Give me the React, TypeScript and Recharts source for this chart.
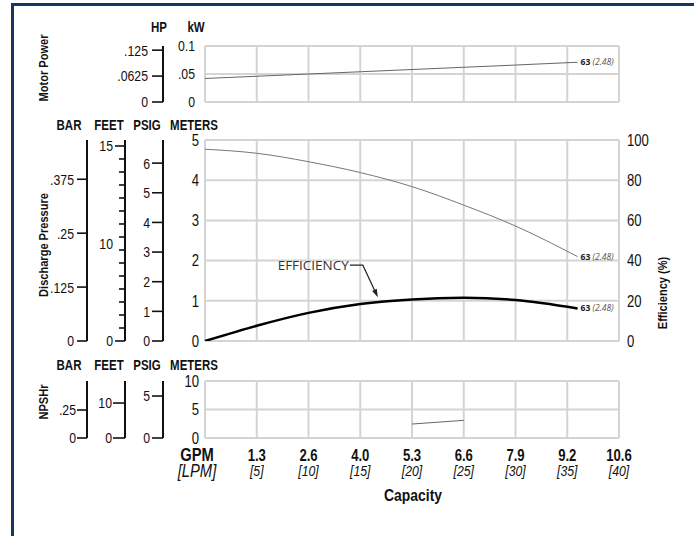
import { CartesianGrid, Line, LineChart, ReferenceDot, XAxis, YAxis } from 'recharts';

// Capacity in LPM, curve values at each point.
const LPM = [0, 5, 10, 15, 20, 25, 30, 36];
const MOTOR_KW = [0.042, 0.046, 0.05, 0.054, 0.058, 0.062, 0.066, 0.071];
const HEAD_M = [4.77, 4.67, 4.46, 4.19, 3.84, 3.38, 2.86, 2.1];
const EFFICIENCY = [0, 7.6, 14, 18.4, 20.7, 21.5, 20.4, 16.2];
const NPSHR_M = [null, null, null, null, 2.45, 3.1, null, null];

const LPM_TICKS = [0, 5, 10, 15, 20, 25, 30, 35, 40];
const GPM_LABELS = ['GPM', '1.3', '2.6', '4.0', '5.3', '6.6', '7.9', '9.2', '10.6'];
const LPM_LABELS = ['[LPM]', '[5]', '[10]', '[15]', '[20]', '[25]', '[30]', '[35]', '[40]'];

const CURVE_TAG = '63';
const CURVE_TAG_IN = '(2.48)';

// motor power scales
const KW_TICKS = [0, 0.05, 0.1];
const KW_LABELS = ['0', '.05', '0.1'];
const HP_TICKS = [0, 0.0625, 0.125];
const HP_LABELS = ['0', '.0625', '.125'];

// discharge pressure scales
const METER_TICKS = [0, 1, 2, 3, 4, 5];
const METER_LABELS = ['0', '1', '2', '3', '4', '5'];
const PSIG_TICKS = [0, 1, 2, 3, 4, 5, 6];
const PSIG_LABELS = ['0', '1', '2', '3', '4', '5', '6'];
const FEET_TICKS = [0, 1, 2, 3, 4, 5, 6, 7, 7.5, 8, 9, 10, 11, 12, 13, 14, 15];
const FEET_LABELED = [0, 7.5, 15];
const FEET_LABELS = ['0', '10', '15'];
const BAR_TICKS = [0, 0.125, 0.25, 0.375];
const BAR_LABELS = ['0', '.125', '.25', '.375'];
const EFF_TICKS = [0, 20, 40, 60, 80, 100];
const EFF_LABELS = ['0', '20', '40', '60', '80', '100'];

// NPSHr scales
const NPSH_TICKS = [0, 5, 10];
const NPSH_LABELS = ['0', '5', '10'];
const NPSH_BAR_TICKS = [0, 0.25];
const NPSH_BAR_LABELS = ['0', '.25'];
const NPSH_FEET_TICKS = [0, 10];
const NPSH_FEET_LABELS = ['0', '10'];
const NPSH_PSIG_TICKS = [0, 5];
const NPSH_PSIG_LABELS = ['0', '5'];

const BASE = '"Liberation Sans", Arial, sans-serif';
const SX = 0.82; // squeeze Liberation Sans toward a condensed face
const GRID = '#d4d4d4';
const INK = '#111';

const rows = LPM.map((lpm, i) => ({
  lpm,
  kw: MOTOR_KW[i],
  head: HEAD_M[i],
  eff: EFFICIENCY[i],
  npsh: NPSHR_M[i],
}));
const LAST = rows.length - 1;

function findIdx(list: number[], v: number) {
  return list.findIndex((t) => Math.abs(t - v) < 1e-9);
}

type CTextProps = {
  x: number;
  y: number;
  anchor?: 'start' | 'middle' | 'end';
  size?: number;
  weight?: number;
  italic?: boolean;
  rotate?: number;
  fill?: string;
  children: React.ReactNode;
};

function CText({ x, y, anchor = 'middle', size = 14, weight = 400, italic, rotate = 0, fill = INK, children }: CTextProps) {
  return (
    <text
      transform={`translate(${x},${y}) rotate(${rotate}) scale(${SX},1)`}
      textAnchor={anchor}
      dy="0.36em"
      fontFamily={BASE}
      fontSize={size}
      fontWeight={weight}
      fontStyle={italic ? 'italic' : undefined}
      fill={fill}
    >
      {children}
    </text>
  );
}

// tick for the stacked left scales: dash out of the axis line plus label
function scaleTick(labeledAt: number[], labels: string[], major = 10, minor = 6, gap = 3, allLines = true) {
  return (p: any) => {
    const v = p.payload.value;
    const li = findIdx(labeledAt, v);
    const hasLine = allLines || Number.isInteger(v);
    const len = li >= 0 ? major : minor;
    return (
      <g>
        {hasLine && <line x1={p.x - len} x2={p.x} y1={p.y} y2={p.y} stroke={INK} strokeWidth={1.6} />}
        {li >= 0 && (
          <CText x={p.x - major - gap} y={p.y} anchor="end" size={15}>
            {labels[li]}
          </CText>
        )}
      </g>
    );
  };
}

function labelTick(ticks: number[], labels: string[], anchor: 'start' | 'end', size: number) {
  return (p: any) => {
    const i = findIdx(ticks, p.payload.value);
    return (
      <CText x={p.x} y={p.y} anchor={anchor} size={size}>
        {labels[i]}
      </CText>
    );
  };
}

function endTag(p: any) {
  if (p.index !== LAST) return <g />;
  return (
    <text x={p.x + 3} y={p.y} dy="0.35em" fontFamily="'Open Sans', sans-serif" fontSize={8.5}>
      <tspan fontWeight={700} fill="#222">
        {CURVE_TAG}
      </tspan>
      <tspan fontStyle="italic" fill="#555">
        {' '}
        {CURVE_TAG_IN}
      </tspan>
    </text>
  );
}

function capacityTick(p: any) {
  const i = findIdx(LPM_TICKS, p.payload.value);
  const first = i === 0;
  const cx = first ? p.x - 8 : p.x;
  return (
    <g>
      <CText x={cx} y={p.y + 17} weight={700} size={first ? 18 : 16}>
        {GPM_LABELS[i]}
      </CText>
      <CText x={cx} y={p.y + 33} italic size={first ? 18 : 15}>
        {LPM_LABELS[i]}
      </CText>
    </g>
  );
}

function EfficiencyNote(p: any) {
  const { cx, cy } = p;
  const cornerX = cx - 15;
  const cornerY = cy - 32;
  const dx = cx - cornerX;
  const dy = cy - cornerY;
  const l = Math.hypot(dx, dy);
  const ux = dx / l;
  const uy = dy / l;
  const bx = cx - ux * 8;
  const by = cy - uy * 8;
  return (
    <g>
      <text
        x={cornerX - 14}
        y={cornerY}
        dy="0.36em"
        textAnchor="end"
        fontFamily="'Open Sans', sans-serif"
        fontSize={13.5}
        fill="#333"
      >
        EFFICIENCY
      </text>
      <polyline
        points={`${cornerX - 13},${cornerY} ${cornerX},${cornerY} ${bx},${by}`}
        fill="none"
        stroke="#222"
        strokeWidth={1.2}
      />
      <polygon
        points={`${cx},${cy} ${bx + uy * 2.6},${by - ux * 2.6} ${bx - uy * 2.6},${by + ux * 2.6}`}
        fill="#222"
      />
    </g>
  );
}

const axisLine = { stroke: INK, strokeWidth: 2 };

// left scales are laid out by id order, "a_" sits against the plot
function ScaleHeaders({ y }: { y: number }) {
  return (
    <g>
      <CText x={69} y={y} weight={700} size={14}>BAR</CText>
      <CText x={109} y={y} weight={700} size={14}>FEET</CText>
      <CText x={147} y={y} weight={700} size={14}>PSIG</CText>
      <CText x={194} y={y} weight={700} size={14}>METERS</CText>
    </g>
  );
}

export default function App() {
  return (
    <div
      style={{
        position: 'absolute',
        left: 0,
        top: 0,
        width: 694,
        height: 536,
        background: '#fff',
        overflow: 'hidden',
      }}
    >
      <div style={{ position: 'absolute', left: 11, top: 3, right: 0, height: 3, background: '#1c3461' }} />
      <div style={{ position: 'absolute', left: 11, top: 3, width: 3, bottom: 0, background: '#1c3461' }} />

      {/* motor power */}
      <div style={{ position: 'absolute', left: 0, top: 36 }}>
        <LineChart width={694} height={76} data={rows} margin={{ top: 10, right: 75, bottom: 10, left: 123 }}>
          <CartesianGrid yAxisId="a_kw" stroke={GRID} strokeWidth={2} />
          <XAxis dataKey="lpm" type="number" domain={[0, 40]} ticks={LPM_TICKS} hide />
          <YAxis
            yAxisId="a_kw"
            width={42}
            domain={[0, 0.1]}
            ticks={KW_TICKS}
            interval={0}
            tickSize={0}
            tickMargin={10}
            axisLine={false}
            tickLine={false}
            allowDataOverflow
            tick={labelTick(KW_TICKS, KW_LABELS, 'end', 15)}
          />
          <YAxis
            yAxisId="b_hp"
            width={40}
            domain={[0, 0.135]}
            ticks={HP_TICKS}
            interval={0}
            tickSize={0}
            tickMargin={0}
            axisLine={axisLine}
            tickLine={false}
            allowDataOverflow
            tick={scaleTick(HP_TICKS, HP_LABELS, 11, 6, 4)}
          />
          <Line
            yAxisId="a_kw"
            dataKey="kw"
            type="linear"
            stroke="#666"
            strokeWidth={1}
            dot={false}
            label={endTag}
            isAnimationActive={false}
          />
        </LineChart>
      </div>

      {/* discharge pressure + efficiency */}
      <div style={{ position: 'absolute', left: 0, top: 130 }}>
        <LineChart width={694} height={221} data={rows} margin={{ top: 10, right: 25, bottom: 10, left: 47 }}>
          <CartesianGrid yAxisId="a_m" stroke={GRID} strokeWidth={2} />
          <XAxis dataKey="lpm" type="number" domain={[0, 40]} ticks={LPM_TICKS} hide />
          <YAxis
            yAxisId="a_m"
            width={42}
            domain={[0, 5]}
            ticks={METER_TICKS}
            interval={0}
            tickSize={0}
            tickMargin={6}
            axisLine={false}
            tickLine={false}
            allowDataOverflow
            tick={labelTick(METER_TICKS, METER_LABELS, 'end', 16)}
          />
          <YAxis
            yAxisId="b_psig"
            width={38}
            domain={[0, 6.78]}
            ticks={PSIG_TICKS}
            interval={0}
            tickSize={0}
            tickMargin={0}
            axisLine={axisLine}
            tickLine={false}
            allowDataOverflow
            tick={scaleTick(PSIG_TICKS, PSIG_LABELS, 11, 6, 2)}
          />
          <YAxis
            yAxisId="c_feet"
            width={38}
            domain={[0, 15.46]}
            ticks={FEET_TICKS}
            interval={0}
            tickSize={0}
            tickMargin={0}
            axisLine={axisLine}
            tickLine={false}
            allowDataOverflow
            tick={scaleTick(FEET_LABELED, FEET_LABELS, 10, 6, 2, false)}
          />
          <YAxis
            yAxisId="d_bar"
            width={40}
            domain={[0, 0.466]}
            ticks={BAR_TICKS}
            interval={0}
            tickSize={0}
            tickMargin={0}
            axisLine={axisLine}
            tickLine={false}
            allowDataOverflow
            tick={scaleTick(BAR_TICKS, BAR_LABELS, 10, 6, 3)}
          />
          <YAxis
            yAxisId="eff"
            orientation="right"
            width={50}
            domain={[0, 100]}
            ticks={EFF_TICKS}
            interval={0}
            tickSize={0}
            tickMargin={8}
            axisLine={false}
            tickLine={false}
            allowDataOverflow
            tick={labelTick(EFF_TICKS, EFF_LABELS, 'start', 16)}
          />
          <Line
            yAxisId="a_m"
            dataKey="head"
            type="monotone"
            stroke="#777"
            strokeWidth={1}
            dot={false}
            label={endTag}
            isAnimationActive={false}
          />
          <Line
            yAxisId="eff"
            dataKey="eff"
            type="monotone"
            stroke="#000"
            strokeWidth={2.5}
            dot={false}
            label={endTag}
            isAnimationActive={false}
          />
          <ReferenceDot yAxisId="eff" x={16.7} y={21.8} r={0} shape={EfficiencyNote} />
        </LineChart>
      </div>

      {/* NPSHr */}
      <div style={{ position: 'absolute', left: 0, top: 371 }}>
        <LineChart width={694} height={112} data={rows} margin={{ top: 10, right: 75, bottom: 5, left: 47 }}>
          <CartesianGrid yAxisId="a_n" stroke={GRID} strokeWidth={2} />
          <XAxis
            dataKey="lpm"
            type="number"
            domain={[0, 40]}
            ticks={LPM_TICKS}
            interval={0}
            height={40}
            tickSize={0}
            tickMargin={0}
            axisLine={false}
            tickLine={false}
            tick={capacityTick}
          />
          <YAxis
            yAxisId="a_n"
            width={42}
            domain={[0, 10]}
            ticks={NPSH_TICKS}
            interval={0}
            tickSize={0}
            tickMargin={6}
            axisLine={false}
            tickLine={false}
            allowDataOverflow
            tick={labelTick(NPSH_TICKS, NPSH_LABELS, 'end', 16)}
          />
          <YAxis
            yAxisId="b_psig"
            width={38}
            domain={[0, 6.79]}
            ticks={NPSH_PSIG_TICKS}
            interval={0}
            tickSize={0}
            tickMargin={0}
            axisLine={axisLine}
            tickLine={false}
            allowDataOverflow
            tick={scaleTick(NPSH_PSIG_TICKS, NPSH_PSIG_LABELS, 11, 6, 2)}
          />
          <YAxis
            yAxisId="c_feet"
            width={38}
            domain={[0, 16.3]}
            ticks={NPSH_FEET_TICKS}
            interval={0}
            tickSize={0}
            tickMargin={0}
            axisLine={axisLine}
            tickLine={false}
            allowDataOverflow
            tick={scaleTick(NPSH_FEET_TICKS, NPSH_FEET_LABELS, 12, 6, 1)}
          />
          <YAxis
            yAxisId="d_bar"
            width={40}
            domain={[0, 0.509]}
            ticks={NPSH_BAR_TICKS}
            interval={0}
            tickSize={0}
            tickMargin={0}
            axisLine={axisLine}
            tickLine={false}
            allowDataOverflow
            tick={scaleTick(NPSH_BAR_TICKS, NPSH_BAR_LABELS, 10, 6, 1)}
          />
          <Line
            yAxisId="a_n"
            dataKey="npsh"
            type="linear"
            stroke="#666"
            strokeWidth={1}
            dot={false}
            connectNulls={false}
            isAnimationActive={false}
          />
        </LineChart>
      </div>

      {/* scale headers and titles */}
      <svg width={694} height={536} style={{ position: 'absolute', left: 0, top: 0, pointerEvents: 'none' }}>
        <CText x={159} y={27} weight={700} size={14}>HP</CText>
        <CText x={196} y={27} weight={700} size={14}>kW</CText>
        <CText x={43} y={68} rotate={-90} weight={700} size={13.5}>Motor Power</CText>

        <ScaleHeaders y={125} />
        <CText x={43} y={245} rotate={-90} weight={700} size={13.5}>Discharge Pressure</CText>
        <CText x={662} y={293} rotate={-90} weight={700} size={13.5}>Efficiency (%)</CText>

        <ScaleHeaders y={365} />
        <CText x={43} y={402} rotate={-90} weight={700} size={13.5}>NPSHr</CText>

        <CText x={413} y={495} weight={700} size={17}>Capacity</CText>
      </svg>
    </div>
  );
}
